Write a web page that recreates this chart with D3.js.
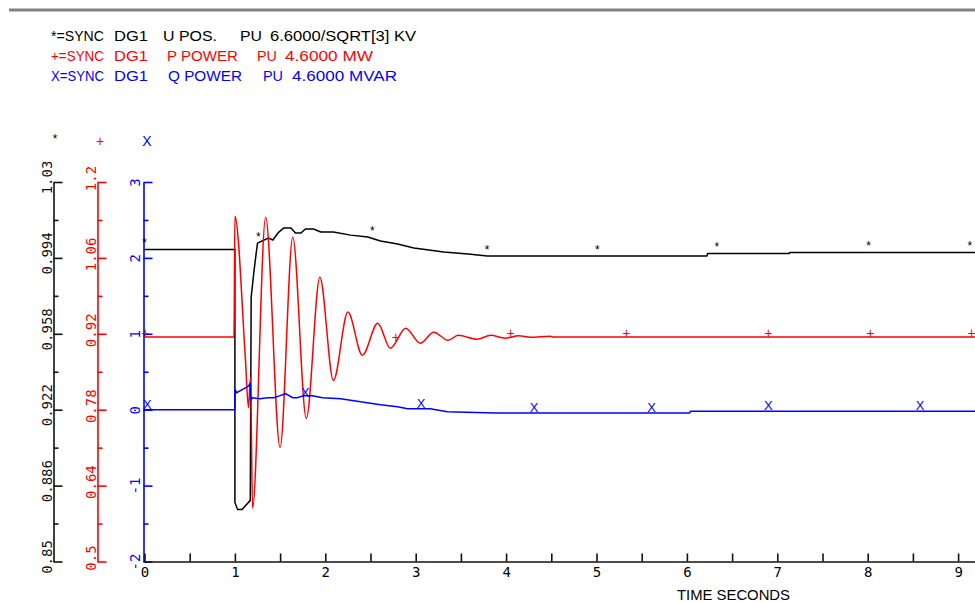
<!DOCTYPE html>
<html><head><meta charset="utf-8">
<script src="https://cdn.jsdelivr.net/npm/d3@7"></script>
<style>body{margin:0;background:#fff}svg{display:block}</style>
</head><body>
<svg id="c" width="975" height="603"></svg>
<script>
// ---------- data ----------
const xTickValues = [0,1,2,3,4,5,6,7,8,9];
const xMinorTicks = [0.5,1.5,2.5,3.5,4.5,5.5,6.5,7.5,8.5];

const vTickValues = [0.85,0.886,0.922,0.958,0.994,1.03];
const vTickLabels = ["0.85","0.886","0.922","0.958","0.994","1.03"];
const vMinorTicks = [0.868,0.904,0.94,0.976,1.012];

const pTickValues = [0.5,0.64,0.78,0.92,1.06,1.2];
const pTickLabels = ["0.5","0.64","0.78","0.92","1.06","1.2"];
const pMinorTicks = [0.57,0.71,0.85,0.99,1.13];

const qTickValues = [-2,-1,0,1,2,3];
const qTickLabels = ["-2","-1","0","1","2","3"];
const qMinorTicks = [-1.5,-0.5,0.5,1.5,2.5];

// U POS (pu) vs time (s)
const voltageSeries = [
  [0,0.998],[1.0,0.998],[1.0,0.878],[1.03,0.8747],[1.08,0.8747],[1.17,0.879],
  [1.18,0.9754],[1.21,0.9873],[1.23,0.9944],[1.25,1.001],[1.30,1.002],[1.37,1.0034],
  [1.42,1.0025],[1.48,1.006],[1.54,1.0082],[1.62,1.0082],[1.67,1.0058],[1.73,1.0058],
  [1.78,1.0077],[1.87,1.0077],[1.95,1.0063],[2.09,1.0063],[2.28,1.0048],[2.47,1.0039],
  [2.61,1.002],[2.80,1.0006],[2.98,0.9987],[3.31,0.9968],[3.58,0.9958],[3.79,0.9949],
  [6.22,0.9949],[6.23,0.9961],[7.13,0.9961],[7.14,0.9966],[9.2,0.9966]
];
// P POWER (pu) vs time (s)
const pPowerSeries = [
  [0,0.914],[0.99,0.914],[1.0,1.137],[1.117,0.871],[1.15,0.784],[1.173,0.84],
  [1.195,0.598],[1.34,1.135],[1.50,0.7105],[1.64,1.098],[1.79,0.764],[1.94,1.0245],
  [2.09,0.834],[2.25,0.960],[2.41,0.8805],[2.58,0.9396],[2.72,0.8934],[2.89,0.9304],
  [3.05,0.9027],[3.20,0.923],[3.36,0.908],[3.47,0.9174],[3.68,0.910],[3.83,0.9174],
  [3.99,0.912],[4.14,0.9165],[4.27,0.9137],[4.49,0.9156],[4.52,0.914],[9.2,0.914]
];
// Q POWER (pu) vs time (s)
const qPowerSeries = [
  [0,0],[1.0,0],[1.0,0.264],[1.02,0.224],[1.08,0.264],[1.14,0.303],[1.17,0.343],
  [1.175,0.119],[1.19,0.158],[1.28,0.145],[1.36,0.158],[1.43,0.158],[1.50,0.185],
  [1.56,0.211],[1.64,0.158],[1.69,0.158],[1.76,0.185],[1.86,0.185],[1.97,0.158],
  [2.17,0.145],[2.39,0.106],[2.61,0.066],[2.80,0.040],[2.91,0.013],[3.16,0.013],
  [3.35,-0.026],[3.88,-0.044],[6.03,-0.044],[6.04,-0.022],[9.2,-0.022]
];

const voltageMarkers = [[0,0.998],[1.26,1.001],[2.52,1.0039],[3.79,0.9949],[5.01,0.9949],[6.33,0.9961],[8.01,0.9966],[9.13,0.9966]];
const pPowerMarkers  = [[0.01,0.914],[2.78,0.905],[4.05,0.914],[5.33,0.914],[6.90,0.914],[8.03,0.914],[9.15,0.914]];
const qPowerMarkers  = [[0.03,0],[1.78,0.158],[3.06,0.013],[4.31,-0.044],[5.61,-0.044],[6.90,-0.022],[8.58,-0.022]];

const legendLines = [
  ["*=SYNC","DG1","U POS.","PU","6.6000/SQRT[3] KV"],
  ["+=SYNC","DG1","P POWER","PU","4.6000 MW"],
  ["X=SYNC","DG1","Q POWER","PU","4.6000 MVAR"]
];
const seriesSymbols = ["*","+","X"];
const xAxisTitle = "TIME SECONDS";

// ---------- layout ----------
const BLACK = "#000", RED = "#ff0000", BLUE = "#0000ff";
const svg = d3.select("#c");
svg.append("rect").attr("width",975).attr("height",603).attr("fill","#fff");

const yTop = 182, yBot = 561.5;
const x = d3.scaleLinear().domain([0, (975-144.5)/90.4]).range([144.5, 975]);
const yV = d3.scaleLinear().domain([0.85,1.03]).range([yBot,yTop]);
const yP = d3.scaleLinear().domain([0.5,1.2]).range([yBot,yTop]);
const yQ = d3.scaleLinear().domain([-2,3]).range([yBot,yTop]);

// top rule
svg.append("line").attr("x1",9).attr("x2",975).attr("y1",10).attr("y2",10)
  .attr("stroke","#808080").attr("stroke-width",3);

// legend
const legendX = [[51,114,163,240,270],[51,114,167,257,285],[51,114,168,263,292]];
const legendW = [[53,34,54,22,146],[53,34,71,20,88],[53,34,74,20,105]];
const legendY = [41,61,81];
const legendColors = [BLACK, RED, BLUE];
legendLines.forEach((parts,r)=>{
  parts.forEach((s,i)=>{
    svg.append("text").attr("x",legendX[r][i]).attr("y",legendY[r])
      .attr("font-family","Liberation Sans, Arial, sans-serif").attr("font-size",15)
      .attr("fill",legendColors[r]).attr("textLength",legendW[r][i]).attr("lengthAdjust","spacingAndGlyphs")
      .text(s);
  });
});

// y axes
function yAxis(scale, xpos, color, major, labels, minor, shift, off){
  const g = svg.append("g").attr("transform",`translate(${xpos},0)`).attr("color",color);
  g.call(d3.axisRight(scale).tickValues(major).tickFormat(d=>labels[major.indexOf(d)]).tickSize(9).tickSizeOuter(0));
  g.selectAll(".tick text").attr("x",null).attr("dy",null).attr("text-anchor","middle")
    .attr("transform",`translate(${shift},${off}) rotate(-90)`)
    .attr("font-family","DejaVu Sans Mono, monospace").attr("font-size",14).attr("fill",color);
  const m = g.append("g").call(d3.axisRight(scale).tickValues(minor).tickFormat("").tickSize(5).tickSizeOuter(0));
  m.select(".domain").remove();
  g.selectAll("line,path").attr("stroke-width",1.6);
}
yAxis(yV, 53.5, "#111", vTickValues, vTickLabels, vMinorTicks, -2, -5);
yAxis(yP, 97.5, RED, pTickValues, pTickLabels, pMinorTicks, -2, -4);
yAxis(yQ, 143.5, BLUE, qTickValues, qTickLabels, qMinorTicks, -3.5, 0);

// x axis
const gx = svg.append("g").attr("transform",`translate(0,${yBot})`).attr("color","#111");
gx.call(d3.axisBottom(x).tickValues(xTickValues).tickFormat(d=>String(d)).tickSize(-8).tickSizeOuter(0).tickPadding(6));
gx.selectAll(".tick text").attr("font-family","DejaVu Sans Mono, monospace").attr("font-size",14).attr("fill","#000");
gx.append("g").call(d3.axisBottom(x).tickValues(xMinorTicks).tickFormat("").tickSize(-8).tickSizeOuter(0)).select(".domain").remove();
gx.selectAll("line,path").attr("stroke-width",1.6);
gx.append("line").attr("x1",143.5).attr("x2",145).attr("y1",0).attr("y2",0).attr("stroke","#111").attr("stroke-width",1.6);
svg.append("text").attr("x",677).attr("y",600).attr("font-family","Liberation Sans, Arial, sans-serif")
  .attr("font-size",14).attr("textLength",113).attr("lengthAdjust","spacingAndGlyphs").attr("fill","#000").text(xAxisTitle);

// series symbols above axes
[[55,143,BLACK,12],[100,146,RED,14],[147,146,BLUE,14]].forEach((p,i)=>{
  svg.append("text").attr("x",p[0]).attr("y",p[1]).attr("text-anchor","middle")
    .attr("font-family","Liberation Sans, Arial, sans-serif").attr("font-size",p[3]).attr("fill",p[2]).text(seriesSymbols[i]);
});

// lines
const plot = svg.append("g");
plot.append("path").datum(voltageSeries).attr("fill","none").attr("stroke",BLACK).attr("stroke-width",1.5)
  .attr("d", d3.line().x(d=>x(d[0])).y(d=>yV(d[1])));
plot.append("path").datum(pPowerSeries).attr("fill","none").attr("stroke",RED).attr("stroke-width",1.5)
  .attr("d", d3.line().curve(d3.curveMonotoneX).x(d=>x(d[0])).y(d=>yP(d[1])));
plot.append("path").datum(qPowerSeries).attr("fill","none").attr("stroke",BLUE).attr("stroke-width",1.5)
  .attr("d", d3.line().x(d=>x(d[0])).y(d=>yQ(d[1])));

// markers
function markers(data, scale, sym, color, size, dy){
  plot.selectAll(null).data(data).enter().append("text")
    .attr("x",d=>x(d[0])).attr("y",d=>scale(d[1])+dy).attr("text-anchor","middle")
    .attr("font-family","Liberation Sans, Arial, sans-serif").attr("font-size",size)
    .attr("fill",color).text(sym);
}
markers(voltageMarkers, yV, seriesSymbols[0], BLACK, 12, -2);
markers(pPowerMarkers, yP, seriesSymbols[1], RED, 14, 0.5);
markers(qPowerMarkers, yQ, seriesSymbols[2], BLUE, 13, -1);
</script>
</body></html>
